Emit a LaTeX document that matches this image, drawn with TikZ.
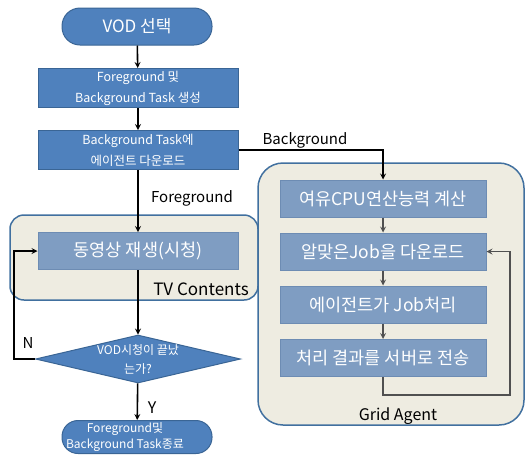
\documentclass[tikz,border=0pt]{standalone}
\usepackage{fontspec}
\setmainfont{Noto Sans CJK KR}
\usepackage{xcolor}
\usetikzlibrary{shapes.geometric, arrows}
\usetikzlibrary{positioning}
\definecolor{flowblue}{HTML}{4F81BD}
\definecolor{flowedge}{HTML}{3A6595}
\definecolor{softblue}{HTML}{7F9DC2}
\definecolor{softedge}{HTML}{6D8CB3}
\definecolor{panelfill}{HTML}{EEECE1}
\definecolor{paneledge}{HTML}{41709F}
\definecolor{darkgray}{HTML}{505050}

\begin{document}
\begin{tikzpicture}[x=1pt,y=-1pt,
  term/.style={rectangle,rounded corners=18pt,fill=flowblue,draw=flowedge,line width=1pt,
    text=white,minimum width=150pt,minimum height=37pt,inner sep=0pt,align=center},
  block/.style={rectangle,fill=flowblue,draw=flowedge,line width=1pt,text=white,
    minimum width=200pt,minimum height=39pt,inner sep=0pt,align=center,
    font=\fontsize{12.5}{21}\selectfont},
  softbox/.style={rectangle,fill=softblue,draw=softedge,line width=1pt,text=white,
    minimum height=37pt,inner sep=0pt,font=\fontsize{17.5}{20}\selectfont},
  decision/.style={diamond,fill=flowblue,draw=flowedge,line width=1pt,inner sep=0pt,
    minimum width=205pt,minimum height=48pt,aspect=4.27},
  panel/.style={fill=panelfill,draw=paneledge,line width=1.5pt},
  flow/.style={->,>=stealth,line width=1.6pt,black},
  gflow/.style={->,>=stealth,line width=1.6pt,darkgray},
  tag/.style={font=\fontsize{15}{18}\selectfont}]
\useasboundingbox (0,0) rectangle (526,459);

% containers
\draw[panel,rounded corners=14pt] (10,215) rectangle (258,300);
\draw[panel,rounded corners=25pt] (258,163) rectangle (524,425);

% left column
\node[term,font=\fontsize{17}{20}\selectfont] (start) at (137,26.5) {VOD 선택};
\node[block] (create) at (138,88) {Foreground 및\\Background Task 생성};
\node[block] (agent) at (138,150) {Background Task에\\에이전트 다운로드};
\node[softbox,minimum width=200pt] (play) at (138,251) {동영상 재생(시청)};
\node[decision] (check) at (138,359) {};
\node[text=white,align=center,font=\fontsize{12}{19}\selectfont] (checktext) at (check)
  {VOD시청이 끝났\\는가?};
\node[term,minimum height=33pt,rounded corners=16pt] (finish) at (137,437) {};
\node[text=white,align=center,font=\fontsize{12}{16}\selectfont,xshift=-12pt] (finishtext)
  at (finish) {Foreground및\\Background Task종료};

% right column
\node[softbox,minimum width=206pt] (calc) at (383,198.5) {여유CPU연산능력 계산};
\node[softbox,minimum width=206pt] (download) at (383,251.5) {알맞은Job을 다운로드};
\node[softbox,minimum width=206pt] (work) at (383,304.5) {에이전트가 Job처리};
\node[softbox,minimum width=206pt] (send) at (383,358) {처리 결과를 서버로 전송};

% labels
\node[tag] (fglabel) at (192,198) {Foreground};
\node[tag,font=\fontsize{17}{18}\selectfont] (tvlabel) at (201,289) {TV Contents};
\node[tag] (bglabel) at (305,140) {Background};
\node[tag,font=\fontsize{16}{18}\selectfont] (gridlabel) at (398,416) {Grid Agent};
\node[tag] (nlabel) at (28,343) {N};
\node[tag,font=\fontsize{16}{18}\selectfont] (ylabel) at (152,408) {Y};

% connectors
\draw[flow] (start) -- (create);
\draw[flow] (create) -- (agent);
\draw[flow] (agent) -- (play);
\draw[flow] (play) -- (check);
\draw[flow] (check) -- (finish);
\coordinate (nturn) at (14,359);
\draw[flow] (check.west) -- (nturn) |- (play.west);
\draw[flow] (agent.east) -| (calc.north);
\draw[gflow] (calc) -- (download);
\draw[gflow] (download) -- (work);
\draw[gflow] (work) -- (send);
\coordinate (loopturn) at (510,395);
\draw[gflow] (send.south) |- (loopturn) |- (download.east);
\end{tikzpicture}
\end{document}
